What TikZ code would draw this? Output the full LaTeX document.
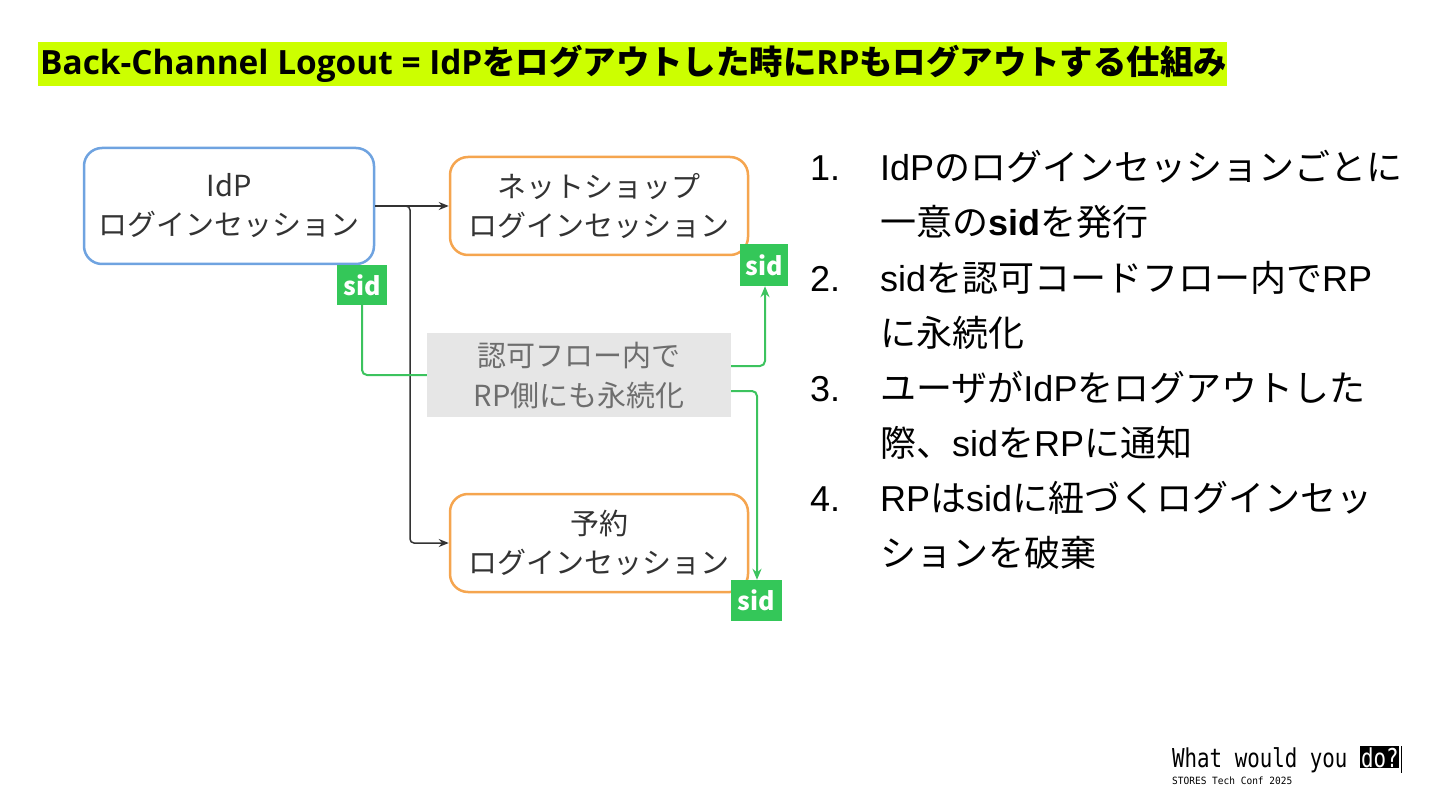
\documentclass[tikz,border=0pt]{standalone}
\usepackage{fontspec}
\setmainfont{Liberation Sans}
\newfontfamily\jp{Noto Sans CJK JP}
\newfontfamily\nsans{Open Sans}
\newfontfamily\monof{DejaVu Sans Mono}
\usetikzlibrary{arrows.meta}
\definecolor{titlebg}{HTML}{CCFF00}
\definecolor{idpblue}{HTML}{6FA3E0}
\definecolor{rporange}{HTML}{F5A54F}
\definecolor{sidgreen}{HTML}{34C759}
\definecolor{linkgreen}{HTML}{3CC35E}
\definecolor{txtgray}{HTML}{333333}
\definecolor{boxgray}{HTML}{E6E6E6}
\definecolor{notegray}{HTML}{6E6E6E}
\newcommand\JP[1]{{\jp #1}}
\tikzset{
  sess/.style={draw, line width=2.5pt, rounded corners=18pt, fill=white, text=txtgray,
    align=center, font=\jp\fontsize{29}{39}\selectfont, inner sep=0pt},
  sidtag/.style={fill=sidgreen, text=white, inner sep=0pt, font=\jp\bfseries\fontsize{25}{25}\selectfont},
  conn/.style={draw=txtgray, line width=1.5pt, rounded corners=4pt, -{Stealth[length=10pt,width=8pt]}},
  glink/.style={draw=linkgreen, line width=2pt, rounded corners=5pt},
  garrow/.style={glink, -{Stealth[length=11pt,width=9pt]}},
  item/.style={anchor=base west, inner sep=0pt, font=\fontsize{36}{36}\selectfont, text=black},
  foot/.style={anchor=base west, font=\monof\fontsize{26}{26}\selectfont, xscale=0.8, transform shape},
}
\begin{document}
\begin{tikzpicture}[x=1pt,y=-1pt]
\useasboundingbox (0,0) rectangle (1440,810);
% title
\node[fill=titlebg, minimum width=1189pt, minimum height=44pt, inner sep=0pt, anchor=north west] (titlebar) at (38,42) {};
\node[anchor=west, inner sep=0pt, font=\fontsize{33.4}{33.4}\selectfont] (title) at (40,64)
  {{\nsans\bfseries Back-Channel Logout = IdP}{\jp\bfseries をログアウトした時に}{\nsans\bfseries RP}{\jp\bfseries もログアウトする仕組み}};
% session boxes
\node[sess, draw=idpblue, minimum width=290pt, minimum height=116pt] (idp) at (229,206) {IdP\\ログインセッション};
\node[sess, draw=rporange, minimum width=298pt, minimum height=98pt] (shop) at (599,206) {ネットショップ\\ログインセッション};
\node[sess, draw=rporange, minimum width=298pt, minimum height=98pt] (resv) at (599,543) {予約\\ログインセッション};
% note box
\node[fill=boxgray, minimum width=304pt, minimum height=84pt, inner sep=0pt, align=center,
  text=notegray, font=\jp\fontsize{29}{40}\selectfont] (note) at (579,375) {認可フロー内で\\RP側にも永続化};
% sid tags
\node[sidtag, minimum width=50pt, minimum height=40pt] (sid1) at (362,285) {sid};
\node[sidtag, minimum width=48pt, minimum height=42pt] (sid2) at (764,265) {sid};
\node[sidtag, minimum width=51pt, minimum height=41pt] (sid3) at (756.5,600.5) {sid};
% dark connectors
\draw[conn] (idp.east) -- (shop.west);
\draw[conn] (idp.east) -- (410,206) -- (410,543) -- (resv.west);
% green connectors
\draw[glink] (sid1.south) -- (362,375) -- (note.west);
\draw[garrow] (note.east |- 0,366) -- (765,366) -- (sid2.south -| 765,0);
\draw[garrow] (note.east |- 0,391) -- (757,391) -- (sid3.north -| 757,0);
% list
\node[item] (n1) at (810,181) {1.};
\node[item] (l1) at (880,181) {IdP\JP{のログインセッションごとに}};
\node[item] (l2) at (880,236) {\JP{一意の}\textbf{sid}\JP{を発行}};
\node[item] (n2) at (810,291) {2.};
\node[item] (l3) at (880,291) {sid\JP{を認可コードフロー内で}RP};
\node[item] (l4) at (880,346) {\JP{に永続化}};
\node[item] (n3) at (810,401) {3.};
\node[item] (l5) at (880,401) {\JP{ユーザが}IdP\JP{をログアウトした}};
\node[item] (l6) at (880,456) {\JP{際、}sid\JP{を}RP\JP{に通知}};
\node[item] (n4) at (810,511) {4.};
\node[item] (l7) at (880,511) {RP\JP{は}sid\JP{に紐づくログインセッ}};
\node[item] (l8) at (880,566) {\JP{ションを破棄}};
% footer
\node[foot, inner sep=0pt] (wwy) at (1172,767) {What would you};
\node[foot, inner sep=1pt, fill=black, text=white] (do) at ([xshift=12.5pt]wwy.base east) {do?};
\draw[line width=1pt] ([xshift=2pt]do.north east) -- ([xshift=2pt,yshift=-4pt]do.south east);
\node[anchor=base west, inner sep=0pt, font=\monof\fontsize{10}{10}\selectfont, xscale=0.95, transform shape] (conf) at (1172,784) {STORES Tech Conf 2025};
\end{tikzpicture}
\end{document}
